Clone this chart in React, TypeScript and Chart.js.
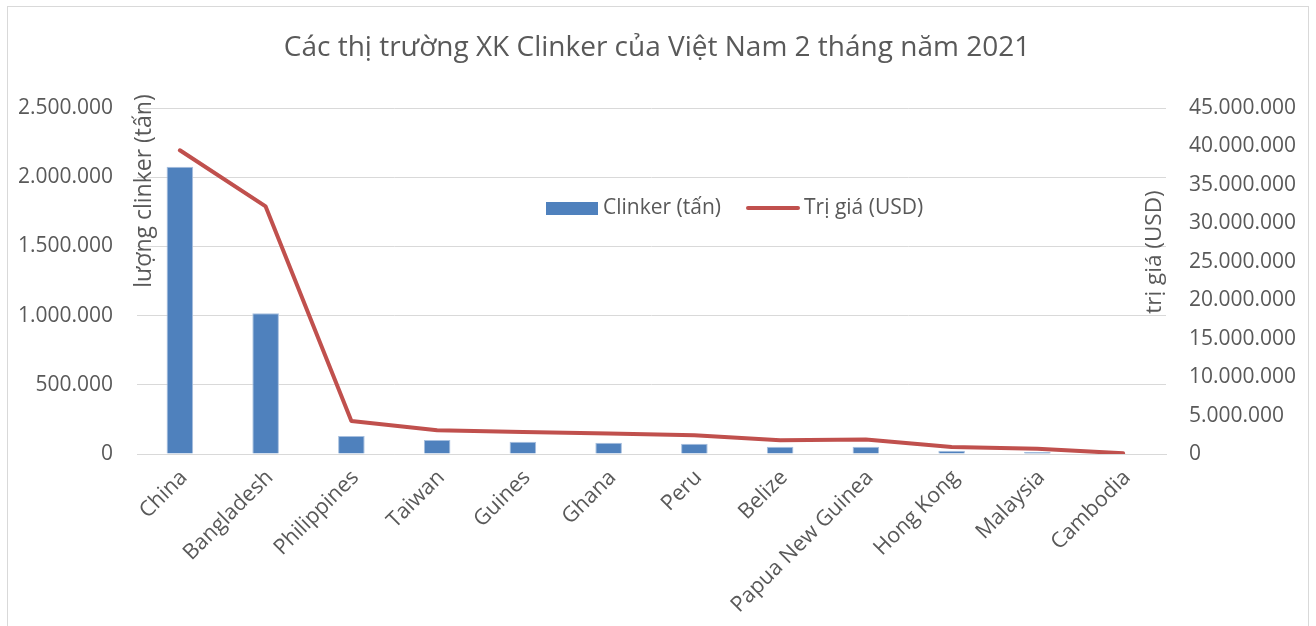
import React, { useEffect, useRef } from "react";
import { Chart, registerables } from "chart.js";

Chart.register(...registerables);

const categories = ["China", "Bangladesh", "Philippines", "Taiwan", "Guines", "Ghana", "Peru", "Belize", "Papua New Guinea", "Hong Kong", "Malaysia", "Cambodia"];
const clinkerTons = [2075000, 1017000, 130000, 101000, 89000, 82000, 74000, 53000, 53000, 24000, 15000, 3000];
const valueUsd = [39500000, 32200000, 4300000, 3100000, 2850000, 2650000, 2450000, 1780000, 1900000, 910000, 690000, 90000];

const titleText = "Các thị trường XK Clinker của Việt Nam 2 tháng năm 2021";
const leftAxisTitle = "lượng clinker (tấn)";
const rightAxisTitle = "trị giá (USD)";
const barLabel = "Clinker (tấn)";
const lineLabel = "Trị giá (USD)";

const FONT = "'Open Sans', sans-serif";
const TEXT = "#595959";
const BLUE = "#4f81bd";
const RED = "#c0504d";
const GRID = "#d9d9d9";

const fmt = (v: number) => String(Math.round(v)).replace(/\B(?=(\d{3})+(?!\d))/g, ".");

const overlayPlugin = {
  id: "overlay",
  afterDraw(chart: any) {
    const ctx = chart.ctx;
    ctx.save();
    ctx.fillStyle = TEXT;
    // Title
    ctx.font = `28px ${FONT}`;
    ctx.textAlign = "center";
    ctx.textBaseline = "middle";
    ctx.fillText(titleText, 649, 41);
    // Left axis title
    ctx.font = `23px ${FONT}`;
    ctx.save();
    ctx.translate(136, 184);
    ctx.rotate(-Math.PI / 2);
    ctx.fillText(leftAxisTitle, 0, 0);
    ctx.restore();
    // Right axis title
    ctx.font = `22.5px ${FONT}`;
    ctx.save();
    ctx.translate(1147, 245);
    ctx.rotate(-Math.PI / 2);
    ctx.fillText(rightAxisTitle, 0, 0);
    ctx.restore();
    // Legend
    ctx.font = `21px ${FONT}`;
    ctx.textAlign = "left";
    ctx.fillStyle = BLUE;
    ctx.fillRect(538, 195, 52, 13);
    ctx.fillStyle = TEXT;
    ctx.fillText(barLabel, 595, 201);
    ctx.strokeStyle = RED;
    ctx.lineWidth = 4;
    ctx.lineCap = "round";
    ctx.beginPath();
    ctx.moveTo(740, 201);
    ctx.lineTo(790, 201);
    ctx.stroke();
    ctx.fillText(lineLabel, 796, 201);
    ctx.restore();
  },
};

export default function App() {
  const ref = useRef<HTMLCanvasElement | null>(null);
  useEffect(() => {
    if (!ref.current) return;
    const chart = new Chart(ref.current, {
      type: "bar",
      data: {
        labels: categories,
        datasets: [
          {
            type: "line",
            label: lineLabel,
            data: valueUsd,
            yAxisID: "y1",
            borderColor: RED,
            backgroundColor: RED,
            borderWidth: 4,
            pointRadius: 0,
            tension: 0,
            borderCapStyle: "round",
            borderJoinStyle: "round",
            order: 0,
          } as any,
          {
            type: "bar",
            label: barLabel,
            data: clinkerTons,
            yAxisID: "y",
            backgroundColor: BLUE,
            borderColor: "#a7bfde",
            borderWidth: 1,
            barPercentage: 0.31,
            categoryPercentage: 1,
            order: 1,
          },
        ],
      },
      options: {
        responsive: false,
        animation: false,
        layout: { padding: { top: 101, left: 0, right: 0, bottom: 0 } },
        plugins: {
          legend: { display: false },
          title: { display: false },
          tooltip: { enabled: false },
        },
        scales: {
          x: {
            grid: { display: false, drawTicks: false },
            border: { display: true, color: GRID, width: 1 },
            ticks: {
              color: TEXT,
              font: { family: FONT, size: 21.5 },
              maxRotation: 45,
              minRotation: 45,
              padding: 11,
              labelOffset: 4,
              autoSkip: false,
            },
            afterFit: (s: any) => {
              s.height = 191;
            },
          },
          y: {
            position: "left",
            min: 0,
            max: 2500000,
            grid: { color: GRID, lineWidth: 1, drawTicks: false },
            border: { display: false },
            ticks: {
              stepSize: 500000,
              color: TEXT,
              font: { family: FONT, size: 21 },
              padding: 24,
              callback: (v: any) => fmt(Number(v)),
            },
            afterFit: (s: any) => {
              s.width = 129;
            },
          },
          y1: {
            position: "right",
            min: 0,
            max: 45000000,
            grid: { display: false, drawTicks: false },
            border: { display: false },
            ticks: {
              stepSize: 5000000,
              color: TEXT,
              font: { family: FONT, size: 21 },
              padding: 23,
              callback: (v: any) => fmt(Number(v)),
            },
            afterFit: (s: any) => {
              s.width = 142;
            },
          },
        },
      },
      plugins: [overlayPlugin],
    });
    return () => chart.destroy();
  }, []);

  return (
    <div
      style={{
        position: "fixed",
        left: 7,
        top: 6,
        width: 1302,
        height: 640,
        border: "1px solid #d9d9d9",
        boxSizing: "border-box",
        background: "#fff",
      }}
    >
      <canvas ref={ref} width={1300} height={638} style={{ display: "block" }} />
    </div>
  );
}
